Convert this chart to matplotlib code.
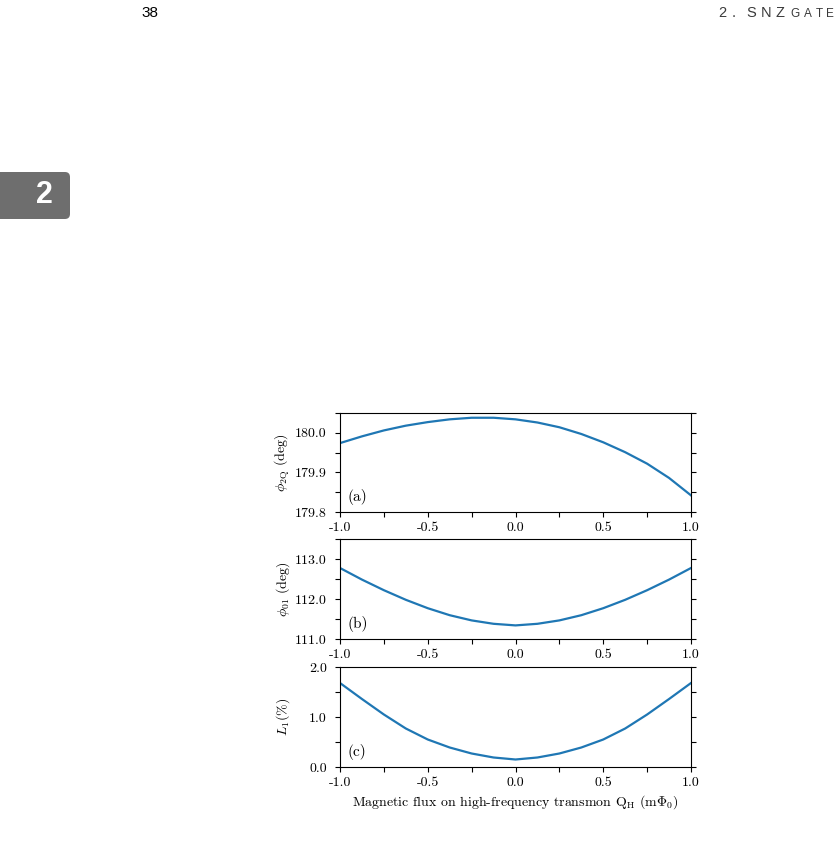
import numpy as np
import matplotlib
matplotlib.use("Agg")
import matplotlib.pyplot as plt
from matplotlib.patches import FancyBboxPatch

plt.rcParams["font.family"] = "serif"
plt.rcParams["font.serif"] = ["cmr10"]
plt.rcParams["mathtext.fontset"] = "cm"
plt.rcParams["axes.unicode_minus"] = False
plt.rcParams["axes.formatter.use_mathtext"] = True

### Values
flux = [-1.0, -0.875, -0.75, -0.625, -0.5, -0.375, -0.25, -0.125, 0.0,
        0.125, 0.25, 0.375, 0.5, 0.625, 0.75, 0.875, 1.0]
phi_2q = [179.974, 179.991, 180.006, 180.018, 180.027, 180.034, 180.038, 180.038, 180.034,
          180.026, 180.014, 179.997, 179.976, 179.951, 179.922, 179.886, 179.842]
phi_01 = [112.775, 112.485, 112.22, 111.98, 111.77, 111.595, 111.465, 111.38, 111.34,
          111.38, 111.465, 111.595, 111.77, 111.98, 112.22, 112.485, 112.775]
leak_L1 = [1.68, 1.36, 1.05, 0.77, 0.55, 0.39, 0.27, 0.19, 0.15,
           0.19, 0.27, 0.39, 0.55, 0.77, 1.05, 1.36, 1.68]

x_ticks = [-1.0, -0.5, 0.0, 0.5, 1.0]
x_ticklabels = ["-1.0", "-0.5", "0.0", "0.5", "1.0"]
x_minor = [-0.75, -0.25, 0.25, 0.75]

panels = [
    dict(y=phi_2q, ylim=(179.8, 180.05), yticks=[179.8, 179.9, 180.0],
         yticklabels=["179.8", "179.9", "180.0"], yminor=[179.85, 179.95, 180.05],
         ylabel=r"$\phi_{2\mathrm{Q}}$ (deg)", tag="(a)"),
    dict(y=phi_01, ylim=(111.0, 113.5), yticks=[111.0, 112.0, 113.0],
         yticklabels=["111.0", "112.0", "113.0"], yminor=[111.5, 112.5, 113.5],
         ylabel=r"$\phi_{01}$ (deg)", tag="(b)"),
    dict(y=leak_L1, ylim=(0.0, 2.0), yticks=[0.0, 1.0, 2.0],
         yticklabels=["0.0", "1.0", "2.0"], yminor=[0.5, 1.5],
         ylabel=r"$L_1(\%)$", tag="(c)"),
]

W, H = 838, 849
fig = plt.figure(figsize=(W / 100, H / 100), dpi=100)

# axes boxes in pixels: (left, top, right, bottom)
boxes = [(340, 413, 691, 512), (340, 539, 691, 639), (340, 667, 691, 767)]

for p, (l, t, r, b) in zip(panels, boxes):
    ax = fig.add_axes([l / W, 1 - b / H, (r - l) / W, (b - t) / H])
    ax.plot(flux, p["y"], color="#1f77b4", lw=1.6)
    ax.set_xlim(-1, 1)
    ax.set_ylim(*p["ylim"])
    ax.set_xticks(x_ticks, x_ticklabels)
    ax.set_xticks(x_minor, minor=True)
    ax.set_yticks(p["yticks"], p["yticklabels"])
    ax.set_yticks(p["yminor"], minor=True)
    ax.tick_params(which="both", direction="out", length=3.5, width=0.8,
                   right=True, top=False, labelsize=10)
    ax.tick_params(axis="y", which="major", pad=6)
    for s in ax.spines.values():
        s.set_linewidth(0.8)
    ax.set_ylabel(p["ylabel"], fontsize=10)
    ax.yaxis.set_label_coords(-0.138, 0.5)
    ax.text(0.022, 0.07, p["tag"], transform=ax.transAxes, fontsize=11,
            ha="left", va="bottom")

ax.set_xlabel(r"Magnetic flux on high-frequency transmon $\mathrm{Q_H}$ (m$\Phi_0$)",
              fontsize=10, labelpad=3)

### Page decorations
fig.text(150 / W, 1 - 13 / H, "38", fontsize=11, family="Liberation Sans",
         ha="center", va="center", color="black")
for ch, xc in zip(["2", ".", "S", "N", "Z"], [722, 734, 751.5, 766.5, 780]):
    fig.text(xc / W, 1 - 13 / H, ch, fontsize=10.5, family="Liberation Sans",
             ha="center", va="center", color="#3a3a3a")
for ch, xc in zip("GATE", [795, 807.5, 819, 829.5]):
    fig.text(xc / W, 1 - 14 / H, ch, fontsize=8.5, family="Liberation Sans",
             ha="center", va="center", color="#3a3a3a")

tab = FancyBboxPatch((-10 / W, 1 - 219 / H), 80 / W, 47 / H,
                     boxstyle="round,pad=0,rounding_size=0.006",
                     transform=fig.transFigure, facecolor="#6e6e6e",
                     edgecolor="none")
fig.patches.append(tab)
fig.text(44.5 / W, 1 - 195 / H, "2", fontsize=22, family="Liberation Sans",
         weight="bold", ha="center", va="center", color="white")

fig.savefig("out.png", dpi=100)
